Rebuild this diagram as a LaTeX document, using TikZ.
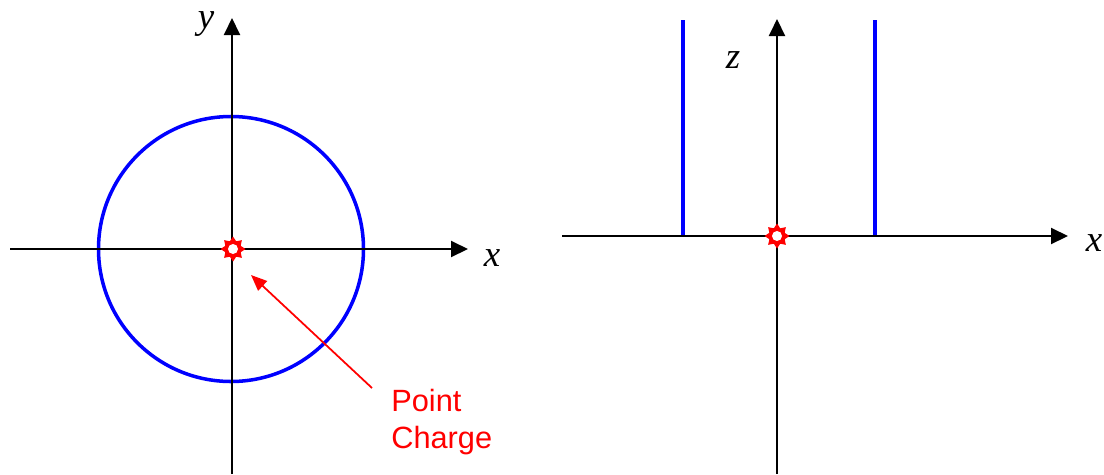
\documentclass[tikz,border=0pt]{standalone}
\usepackage{fontspec}
\setmainfont{Liberation Serif}
\setsansfont{Liberation Sans}
\usepackage{xcolor}
\usetikzlibrary{arrows.meta,positioning,calc,shapes.geometric}

\begin{document}
\begin{tikzpicture}[x=0.02cm,y=-0.02cm,>={Triangle[length=0.34cm,width=0.32cm]},
  axis/.style={line width=1.15pt,->},
  wire/.style={line width=2pt,blue},
  axlabel/.style={font=\fontsize{21}{24}\selectfont\itshape,inner sep=0pt},
  charge/.style={star,star points=8,star point ratio=1.5,fill=red,minimum size=0.5cm,inner sep=0pt}]
  \useasboundingbox (0,0) rectangle (1104,474);
  % left: top view
  \coordinate (lw) at (10,249);
  \coordinate (le) at (468,249);
  \coordinate (ls) at (232,474);
  \coordinate (ln) at (232,18);
  \draw[wire] (231,249) circle (132.5);
  \draw[axis] (lw) -- (le);
  \draw[axis] (ls) -- (ln);
  \node[axlabel] (xl) at (492,258) {x};
  \node[axlabel] (yl) at (206,24) {y};
  \node[charge] (ql) at (233,249) {};
  \fill[white] (ql) circle (5);
  \node[red,font=\sffamily\fontsize{17.5}{21}\selectfont,align=left,anchor=north west,inner sep=0pt] (pc) at (391,389) {Point\\Charge};
  \coordinate (tail) at (372,388);
  \coordinate (tip) at (251,275);
  \draw[red,line width=1pt,-{Triangle[length=0.32cm,width=0.26cm]}] (tail) -- (tip);
  % right: side view
  \coordinate (rw) at (562,236);
  \coordinate (re) at (1068,236);
  \coordinate (rs) at (777,474);
  \coordinate (rn) at (777,19);
  \draw[wire] (683,20) -- (683,236);
  \draw[wire] (875,20) -- (875,236);
  \draw[axis] (rw) -- (re);
  \draw[axis] (rs) -- (rn);
  \node[axlabel] (xr) at (1094,243) {x};
  \node[axlabel] (zr) at (733,60) {z};
  \node[charge] (qr) at (777,236) {};
  \fill[white] (qr) circle (5);
\end{tikzpicture}
\end{document}
